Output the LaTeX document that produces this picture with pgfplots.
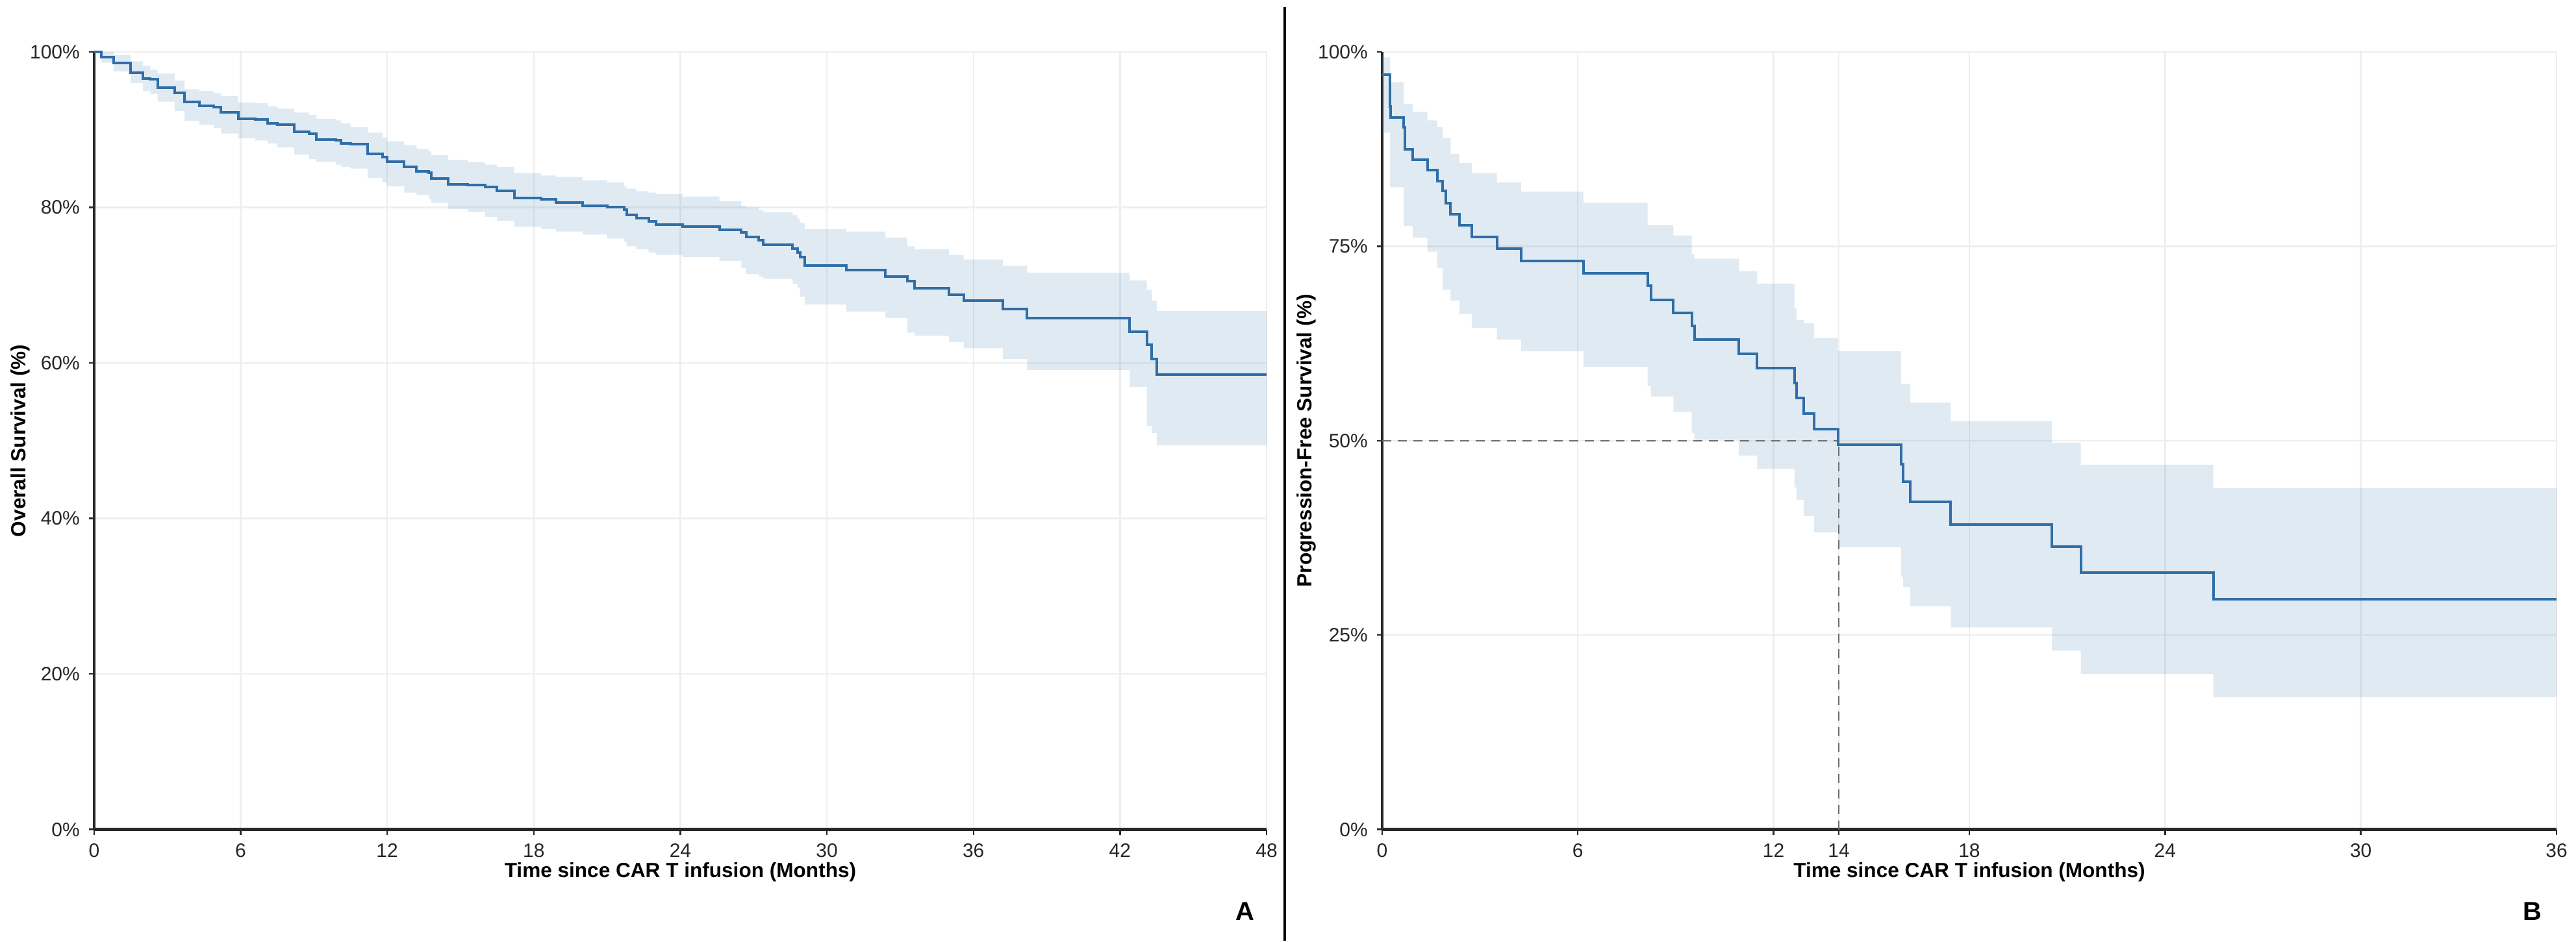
\documentclass[border=0pt]{standalone}
\usepackage{pgfplots}
\pgfplotsset{compat=1.18}
\usepgfplotslibrary{fillbetween}
\usepackage{pgfplotstable}
\usepackage{fontspec}
\setmainfont{Liberation Sans}
\definecolor{kmline}{RGB}{48,110,168}
\definecolor{kmband}{RGB}{70,130,180}
\definecolor{gridc}{RGB}{238,238,238}
\definecolor{axc}{RGB}{40,40,40}

\pgfplotstableread{
t S lo hi
0 100 100 100
0.3 99.3 98.6 100
0.8 98.6 97.5 99.6
1.5 97.3 96.0 98.8
2.0 96.6 95.0 98.2
2.3 96.5 94.6 97.7
2.6 95.4 93.6 97.2
3.3 94.7 92.4 96.3
3.7 93.6 91.1 95.2
4.3 93.1 90.6 95.0
4.9 92.9 90.2 94.7
5.2 92.2 89.5 94.3
5.9 91.4 88.9 93.5
6.6 91.3 88.6 93.4
7.1 90.8 88.2 93.0
7.5 90.6 87.7 92.7
8.2 89.7 86.8 92.2
8.8 89.5 86.2 91.9
9.1 88.7 85.9 91.4
9.9 88.6 85.5 91.2
10.1 88.2 85.2 90.8
10.5 88.1 85.0 90.3
11.2 86.9 83.8 89.6
11.8 86.5 83.2 89.0
12.0 85.9 82.7 88.5
12.7 85.2 81.9 88.0
13.2 84.6 81.6 87.5
13.7 84.5 81.1 87.2
13.8 83.7 80.6 86.7
14.5 83.0 79.8 86.1
15.3 82.9 79.4 85.8
16.0 82.6 78.8 85.5
16.5 82.1 78.3 85.2
17.2 81.2 77.5 84.4
18.3 81.0 77.2 84.1
18.9 80.6 76.9 83.9
20.0 80.2 76.5 83.5
21.0 80.0 76.0 83.2
21.7 79.7 75.6 82.7
21.8 79.0 75.0 82.4
22.2 78.6 74.6 82.1
22.7 78.2 74.2 81.9
23.0 77.8 73.9 81.7
24.1 77.5 73.6 81.4
25.6 77.1 73.1 80.8
26.5 76.8 72.2 80.2
26.7 76.2 71.4 80.0
27.2 75.8 71.1 79.6
27.4 75.2 70.8 79.4
28.6 74.7 70.2 79.0
28.8 74.2 69.7 78.5
28.9 73.6 68.5 78.0
29.1 72.5 67.5 77.2
30.8 71.9 66.6 76.9
32.4 71.1 65.8 76.1
33.3 70.5 63.9 75.0
33.6 69.6 63.5 74.6
35.0 68.8 62.7 73.9
35.6 68.0 61.9 73.3
37.2 66.9 60.5 72.5
38.2 65.8 59.1 71.6
42.4 64.0 56.9 70.6
43.1 62.3 51.9 69.4
43.3 60.5 51.0 68.0
43.5 58.5 49.4 66.7
48 58.5 49.4 66.7
}\osdata

\pgfplotstableread{
t S lo hi
0 97.1 89.6 99.3
0.24 93.0 82.6 96.1
0.27 91.6 82.6 96.1
0.66 90.3 77.6 93.3
0.69 87.5 77.6 93.3
0.94 86.1 76.1 92.3
1.39 84.8 74.3 91.2
1.69 83.4 72.2 90.3
1.85 82.1 69.4 88.9
1.95 80.5 69.4 88.9
2.1 79.1 68.0 86.9
2.37 77.7 66.3 85.7
2.75 76.2 64.5 84.4
3.52 74.7 63.0 83.2
4.26 73.1 61.5 82.0
6.17 71.5 59.5 80.6
8.14 69.9 57.0 77.7
8.24 68.1 55.7 77.7
8.93 66.4 53.7 76.4
9.49 64.8 51.0 74.0
9.57 63.0 50.1 73.4
10.93 61.2 48.1 71.8
11.5 59.3 46.4 70.2
12.64 57.4 44.0 67.0
12.7 55.5 42.4 65.5
12.92 53.5 40.3 65.1
13.24 51.5 38.2 63.2
13.97 49.5 36.3 61.5
15.91 47.0 32.5 57.3
15.97 44.7 31.2 57.3
16.19 42.1 28.7 54.9
17.43 39.25 26.0 52.5
20.53 36.4 23.0 49.75
21.42 33.0 20.0 46.9
25.48 29.6 17.0 43.9
36 29.6 17.0 43.9
}\pfsdata

\pgfplotsset{kmstyle/.style={
  scale only axis,
  axis lines=left,
  axis line style={axc, line width=1.1pt, -},
  xmajorgrids, ymajorgrids,
  grid style={gridc, line width=0.6pt},
  tick style={axc, line width=0.6pt},
  major tick length=2pt,
  tick align=outside,
  ymin=0, ymax=100,
  clip=false,
  ticklabel style={font=\fontsize{7.5}{8.5}\selectfont, text=black!85},
  label style={font=\bfseries\fontsize{7.9}{9.5}\selectfont},
  xlabel={Time since CAR T infusion (Months)},
  xlabel style={at={(axis description cs:0.5,-0.055)}, anchor=center},
}}

\begin{document}
\begin{tikzpicture}
% Panel A
\begin{axis}[kmstyle,
  at={(36.25pt,42.75pt)}, anchor=south west,
  width=451.75pt, height=299.75pt,
  xmin=0, xmax=48,
  xtick={0,6,12,18,24,30,36,42,48},
  xticklabels={0,6,12,18,24,30,36,42,48},
  ytick={0,20,40,60,80,100},
  yticklabels={0\%,20\%,40\%,60\%,80\%,100\%},
  ylabel={Overall Survival (\%)},
  ylabel style={at={(axis description cs:-0.063,0.5)}, anchor=center},
]
\addplot[const plot, draw=none, name path=osh] table[x=t,y=hi]{\osdata};
\addplot[const plot, draw=none, name path=osl] table[x=t,y=lo]{\osdata};
\addplot[fill=kmband, fill opacity=0.17, draw=none] fill between[of=osh and osl];
\addplot[const plot, kmline, line width=1pt] table[x=t,y=S]{\osdata};
\end{axis}

% Panel B
\begin{axis}[kmstyle,
  at={(532.5pt,42.75pt)}, anchor=south west,
  width=452.5pt, height=299.75pt,
  xmin=0, xmax=36,
  xtick={0,6,12,14,18,24,30,36},
  xticklabels={0,6,12,14,18,24,30,36},
  ytick={0,25,50,75,100},
  yticklabels={0\%,25\%,50\%,75\%,100\%},
  ylabel={Progression-Free Survival (\%)},
  ylabel style={at={(axis description cs:-0.0646,0.5)}, anchor=center},
]
\addplot[const plot, draw=none, name path=pfh] table[x=t,y=hi]{\pfsdata};
\addplot[const plot, draw=none, name path=pfl] table[x=t,y=lo]{\pfsdata};
\addplot[fill=kmband, fill opacity=0.17, draw=none] fill between[of=pfh and pfl];
\addplot[gray!85!black, line width=0.6pt, dash pattern=on 3.5pt off 2.5pt] coordinates {(0,50) (14,50)};
\addplot[gray!85!black, line width=0.6pt, dash pattern=on 3.5pt off 2.5pt] coordinates {(14,0) (14,50)};
\addplot[const plot, kmline, line width=1pt] table[x=t,y=S]{\pfsdata};
\end{axis}

\draw[black, line width=1.2pt] (495pt,0) -- (495pt,359.75pt);
\node[font=\bfseries\fontsize{10}{11}\selectfont] at (479.75pt,11.25pt) {A};
\node[font=\bfseries\fontsize{10}{11}\selectfont] at (975.75pt,11.25pt) {B};
\path (0,0) rectangle (991.5pt,362.5pt);
\end{tikzpicture}
\end{document}
